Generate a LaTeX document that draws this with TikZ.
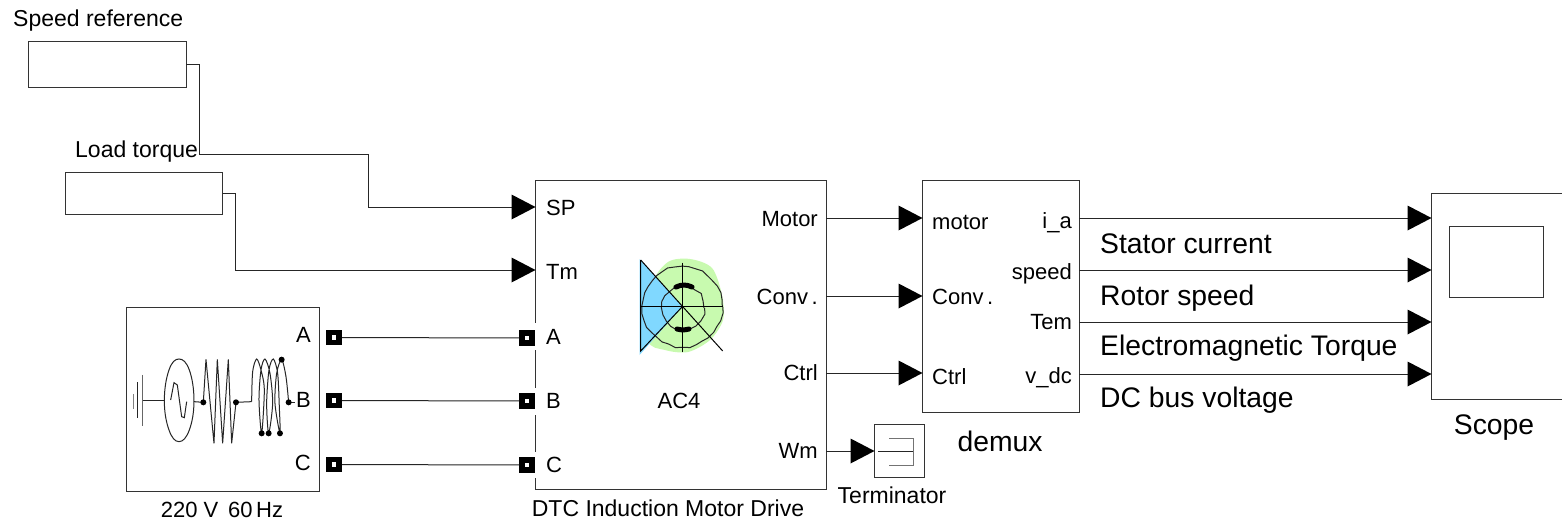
\documentclass[tikz,border=0pt]{standalone}
\usepackage{fontspec}
\setmainfont{Liberation Sans}
\usetikzlibrary{arrows.meta,decorations.pathmorphing}
\definecolor{motorgreen}{RGB}{200,250,175}
\definecolor{motorblue}{RGB}{128,216,255}
\tikzset{
  blockbox/.style={draw=black!80,fill=white,line width=1pt,inner sep=0pt},
  wire/.style={draw=black!85,line width=1pt},
  sig/.style={wire,-{Triangle[length=24pt,width=25pt,fill=black,line width=0pt]},shorten >=-0.5pt},
  portsq/.style={rectangle,draw=black,fill=white,line width=5.5pt,inner sep=0pt,minimum size=10pt},
  lblP/.style={inner sep=0pt,font=\fontsize{22}{24}\selectfont},
  lblS/.style={inner sep=0pt,font=\fontsize{23}{25}\selectfont},
  lblL/.style={inner sep=0pt,font=\fontsize{28.3}{30}\selectfont},
  icon/.style={draw=black!85,line width=1pt},
  dotn/.style={circle,fill=black,inner sep=0pt,minimum size=6pt},
  bumpy/.style={decorate,decoration={random steps,segment length=7pt,amplitude=1pt}}
}
\begin{document}
\begin{tikzpicture}[x=1pt,y=-1pt]
  \useasboundingbox (0,0) rectangle (1562,527);
  \fill[white] (0,0) rectangle (1562,527);
  % blocks
  \node[blockbox,minimum width=157.5pt,minimum height=46pt] (speed) at (107.25,64.5) {};
  \node[blockbox,minimum width=157.5pt,minimum height=42.5pt] (load) at (143.75,193.25) {};
  \node[blockbox,minimum width=192.5pt,minimum height=184pt] (source) at (222.75,399) {};
  \node[blockbox,minimum width=291pt,minimum height=309pt] (drive) at (680.5,334.5) {};
  \node[blockbox,minimum width=157pt,minimum height=232pt] (demux) at (1000.5,296) {};
  \node[blockbox,minimum width=50pt,minimum height=53pt] (term) at (899,450.5) {};
  \node[blockbox,minimum width=150pt,minimum height=206pt] (scope) at (1506,296) {};
  \node[blockbox,minimum width=94pt,minimum height=71pt] (screen) at (1496,261.5) {};
  % gaps in the edge of the drive
  \draw[white,line width=2.5pt] (535,323) -- (535,350);
  \draw[white,line width=2.5pt] (535,388) -- (535,415);
  \draw[white,line width=2.5pt] (535,452) -- (535,478);
  % inputs and outputs of the blocks
  \coordinate (dSP) at (535,207);
  \coordinate (dTm) at (535,270);
  \coordinate (dMotor) at (826,218);
  \coordinate (dConv) at (826,296);
  \coordinate (dCtrl) at (826,373);
  \coordinate (dWm) at (826,451);
  \coordinate (mMotor) at (922,218);
  \coordinate (mConv) at (922,296);
  \coordinate (mCtrl) at (922,373);
  \coordinate (mIa) at (1079,218);
  \coordinate (mSpeed) at (1079,270);
  \coordinate (mTem) at (1079,322);
  \coordinate (mVdc) at (1079,374);
  \coordinate (sIa) at (1431,218);
  \coordinate (sSpeed) at (1431,270);
  \coordinate (sTem) at (1431,322);
  \coordinate (sVdc) at (1431,374);
  \coordinate (tIn) at (874,451);
  \coordinate (speedOut) at (186,64.5);
  \coordinate (loadOut) at (222.5,193.5);
  \node[portsq] (sA) at (334,337.5) {};
  \node[portsq] (sB) at (334,400.5) {};
  \node[portsq] (sC) at (334,464.5) {};
  \node[portsq] (iA) at (527,338) {};
  \node[portsq] (iB) at (527,401) {};
  \node[portsq] (iC) at (527,465) {};
  % connectors
  \draw[sig] (speedOut) -- (199,64.5) -- (199,154.5) -- (368,154.5) -- (368,207) -- (dSP);
  \draw[sig] (loadOut) -- (235,193.5) -- (235,270) -- (dTm);
  \draw[wire] (sA) -- (iA);
  \draw[wire] (sB) -- (iB);
  \draw[wire] (sC) -- (iC);
  \draw[sig] (dMotor) -- (mMotor);
  \draw[sig] (dConv) -- (mConv);
  \draw[sig] (dCtrl) -- (mCtrl);
  \draw[sig] (dWm) -- (tIn);
  \draw[sig] (mIa) -- (sIa);
  \draw[sig] (mSpeed) -- (sSpeed);
  \draw[sig] (mTem) -- (sTem);
  \draw[sig] (mVdc) -- (sVdc);
  % terminator icon
  \draw[icon] (878,451) -- (913,451);
  \draw[icon,black!55] (889,438) -- (913,438) -- (913,465) -- (889,465);
  % motor icon
  \pgfmathsetseed{7}
  \fill[motorgreen] plot[smooth cycle] coordinates {(668,262) (690,259) (712,268) (722,295) (723,320) (710,340) (688,352) (665,350) (648,340) (652,285)};
  \fill[motorblue] (639.5,259) -- (682.3,306.7) -- (639.5,355) -- cycle;
  \draw[icon,bumpy] (682.3,306.7) circle[radius=40pt];
  \draw[icon,bumpy] (683,308) circle[radius=21pt];
  \draw[icon,black] (640.7,260) -- (640.7,351) -- (682.3,306.7);
  \draw[icon,black] (640.7,260) -- (722.7,351);
  \draw[icon,black] (682.3,262.7) -- (682.3,351.7);
  \draw[icon,black] (640.7,306.7) -- (722.7,306.7);
  \draw[line width=5pt,line cap=round] (676,287) to[bend left=25] (692,287);
  \draw[line width=5pt,line cap=round] (677,329) to[bend right=15] (689,329);
  % source icon
  \begin{scope}[shift={(100,290)},x=0.3333pt,y=-0.3333pt]
    \draw[icon,black!50] (100,312) -- (100,357);
    \draw[icon] (113,277) -- (113,385);
    \draw[icon,black!60] (129,255) -- (129,408);
    \draw[icon] (130,333) -- (193,333);
    \draw[icon] plot[smooth cycle,tension=0.7] coordinates {(237,207) (268,240) (282,332) (268,420) (237,455) (207,420) (193,332) (207,240)};
    \draw[icon] (212,330) -- (222,278) -- (232,285) -- (245,380) -- (253,383) -- (260,335);
    \draw[icon] (282,335) -- (310,337) -- (318,208) -- (342,460) -- (352,208) -- (368,460) -- (385,208) -- (395,460) -- (408,337) -- (455,335);
    \draw[icon] plot[smooth,tension=0.5] coordinates {(455,335) (458,245) (470,207) (483,240) (493,300) (485,430) (477,330) (483,240) (495,207) (510,250) (518,340) (506,430) (500,340) (507,240) (520,207) (533,250) (538,350) (540,430) (525,340) (530,250) (545,209) (558,260) (566,337)};
    \draw[icon] (566,337) -- (585,337);
    \node[dotn] (d1) at (310,337) {};
    \node[dotn] (d2) at (408,337) {};
    \node[dotn] (d3) at (485,430) {};
    \node[dotn] (d4) at (506,430) {};
    \node[dotn] (d5) at (540,430) {};
    \node[dotn] (d6) at (545,209) {};
    \node[dotn] (d7) at (566,337) {};
  \end{scope}
  % labels
  \node[lblS,anchor=base west] (lSpeed) at (13,26.5) {Speed reference};
  \node[lblS,anchor=base west] (lLoad) at (75,157) {Load torque};
  \node[lblP,anchor=base east] (lsA) at (311,342) {A};
  \node[lblP,anchor=base east] (lsB) at (311,407) {B};
  \node[lblP,anchor=base east] (lsC) at (311,470) {C};
  \node[lblP,anchor=base] (lSource) at (222,517) {220 V\, 60\,Hz};
  \node[lblP,anchor=base west] (lSP) at (546,215) {SP};
  \node[lblP,anchor=base west] (lTm) at (546,279) {Tm};
  \node[lblP,anchor=base west] (lA) at (546,344) {A};
  \node[lblP,anchor=base west] (lB) at (546,408) {B};
  \node[lblP,anchor=base west] (lC) at (546,472) {C};
  \node[lblP,anchor=base east] (lMotor) at (818,226) {Motor};
  \node[lblP,anchor=base east] (lConv) at (818,304) {Conv\,.};
  \node[lblP,anchor=base east] (lCtrl) at (818,380) {Ctrl};
  \node[lblP,anchor=base east] (lWm) at (818,458) {Wm};
  \node[lblP,anchor=base] (lAC) at (679,408) {AC4};
  \node[lblS,anchor=base] (lDrive) at (668,516) {DTC Induction Motor Drive};
  \node[lblS,anchor=base] (lTerm) at (892,503) {Terminator};
  \node[lblP,anchor=base west] (lmMotor) at (932,229) {motor};
  \node[lblP,anchor=base west] (lmConv) at (932,304) {Conv\,.};
  \node[lblP,anchor=base west] (lmCtrl) at (932,384) {Ctrl};
  \node[lblP,anchor=base east] (lIa) at (1072,228) {i\_a};
  \node[lblP,anchor=base east] (lSpd) at (1072,279) {speed};
  \node[lblP,anchor=base east] (lTem) at (1072,329) {Tem};
  \node[lblP,anchor=base east] (lVdc) at (1072,383) {v\_dc};
  \node[lblL,anchor=base] (lDemux) at (1000,451) {demux};
  \node[lblL,anchor=base] (lScope) at (1494,434) {Scope};
  \node[lblL,anchor=base west] (lStator) at (1100,253) {Stator current};
  \node[lblL,anchor=base west] (lRotor) at (1100,305) {Rotor speed};
  \node[lblL,anchor=base west] (lEm) at (1100,355) {Electromagnetic Torque};
  \node[lblL,anchor=base west] (lDC) at (1100,407) {DC bus voltage};
\end{tikzpicture}
\end{document}
